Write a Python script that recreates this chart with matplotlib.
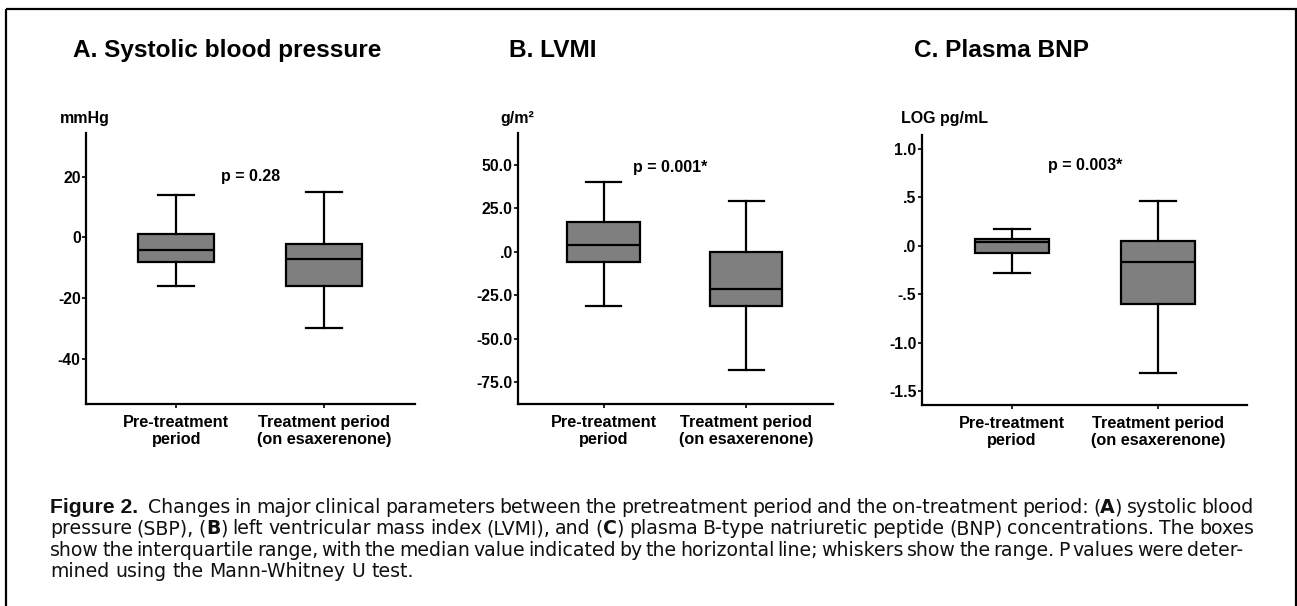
import matplotlib
matplotlib.use("Agg")
import matplotlib.pyplot as plt
from matplotlib import font_manager
from matplotlib.patches import Rectangle

# ---------------- data ----------------
groups = ["Pre-treatment\nperiod", "Treatment period\n(on esaxerenone)"]

titles = ["A. Systolic blood pressure", "B. LVMI", "C. Plasma BNP"]
units = ["mmHg", "g/m\u00b2", "LOG pg/mL"]
p_texts = ["p = 0.28", "p = 0.001*", "p = 0.003*"]

# five-number summaries per group: [whislo, q1, median, q3, whishi]
sbp_pre = [-16, -8, -4, 1, 14]
sbp_trt = [-30, -16, -7, -2, 15]
lvmi_pre = [-31, -6, 4, 17, 40]
lvmi_trt = [-68, -31, -21.5, 0, 29]
bnp_pre = [-0.28, -0.08, 0.035, 0.065, 0.175]
bnp_trt = [-1.31, -0.60, -0.165, 0.048, 0.457]

sbp_ticks = [20, 0, -20, -40]
sbp_ticklabels = ["20", "0", "-20", "-40"]
lvmi_ticks = [50, 25, 0, -25, -50, -75]
lvmi_ticklabels = ["50.0", "25.0", ".0", "-25.0", "-50.0", "-75.0"]
bnp_ticks = [1.0, 0.5, 0.0, -0.5, -1.0, -1.5]
bnp_ticklabels = ["1.0", ".5", ".0", "-.5", "-1.0", "-1.5"]

caption_label = "Figure 2."
caption_lines = [
    [("Changes in major clinical parameters between the pretreatment period and the on-treatment period: (", "r"),
     ("A", "b"), (") systolic blood", "r")],
    [("pressure (SBP), (", "r"), ("B", "b"), (") left ventricular mass index (LVMI), and (", "r"), ("C", "b"),
     (") plasma B-type natriuretic peptide (BNP) concentrations. The boxes", "r")],
    [("show the interquartile range, with the median value indicated by the horizontal line; whiskers show the range. P values were deter-", "r")],
    [("mined using the Mann-Whitney U test.", "r")],
]

# ---------------- layout ----------------
W, H = 1297, 606
fig = plt.figure(figsize=(W / 100, H / 100), dpi=100)
fig.patch.set_facecolor("white")

FONT = "Liberation Sans"

def fr(l, t, r, b):
    return [l / W, 1 - b / H, (r - l) / W, (b - t) / H]

panels = [
    dict(rect=fr(86, 133, 415, 404), ylim=(-55, 34.5), xlim=(0.39, 2.615), data=[sbp_pre, sbp_trt],
         ticks=sbp_ticks, labels=sbp_ticklabels, py=20.0, px=1.5,
         title_x=73, unit_x=60),
    dict(rect=fr(518, 133, 833, 404), ylim=(-87.5, 68.2), xlim=(0.40, 2.61), data=[lvmi_pre, lvmi_trt],
         ticks=lvmi_ticks, labels=lvmi_ticklabels, py=48.5, px=1.47,
         title_x=509, unit_x=500),
    dict(rect=fr(921.7, 135, 1246.7, 405), ylim=(-1.64, 1.14), xlim=(0.38, 2.61), data=[bnp_pre, bnp_trt],
         ticks=bnp_ticks, labels=bnp_ticklabels, py=0.83, px=1.5,
         title_x=914, unit_x=900.7),
]

LW = 1.6
for i, p in enumerate(panels):
    ax = fig.add_axes(p["rect"])
    stats = []
    for d in p["data"]:
        stats.append(dict(whislo=d[0], q1=d[1], med=d[2], q3=d[3], whishi=d[4], fliers=[]))
    ax.bxp(stats, positions=[1, 2], widths=0.51, capwidths=0.245, patch_artist=True, showfliers=False,
           boxprops=dict(facecolor="#7f7f7f", edgecolor="black", linewidth=LW),
           medianprops=dict(color="black", linewidth=LW),
           whiskerprops=dict(color="black", linewidth=LW),
           capprops=dict(color="black", linewidth=LW))
    ax.set_xlim(*p["xlim"])
    ax.set_ylim(*p["ylim"])
    ax.set_yticks(p["ticks"])
    ax.set_yticklabels(p["labels"], fontfamily=FONT, fontweight="bold", fontsize=11.3)
    ax.set_xticks([1, 2])
    ax.set_xticklabels(groups, fontfamily=FONT, fontweight="bold", fontsize=11.7, linespacing=1.15)
    ax.tick_params(axis="y", direction="out", length=3, width=1.2, pad=0.8, color="black")
    ax.tick_params(axis="x", direction="out", length=3, width=1.2, pad=5, color="black")
    for s in ["top", "right"]:
        ax.spines[s].set_visible(False)
    for s in ["left", "bottom"]:
        ax.spines[s].set_linewidth(LW)
    ax.patch.set_alpha(0)
    ax.text(p["px"], p["py"], p_texts[i], ha="center", va="center", fontfamily=FONT,
            fontweight="bold", fontsize=11.5)

# overlay axes in pixel coordinates for titles, units, caption and frame
ov = fig.add_axes([0, 0, 1, 1], zorder=-1)
ov.set_xlim(0, W)
ov.set_ylim(H, 0)
ov.axis("off")

ov.add_patch(Rectangle((6, 9), 1290, 640, fill=False, edgecolor="black", linewidth=1.6, clip_on=False))

for i, p in enumerate(panels):
    ov.text(p["title_x"], 56.7, titles[i], ha="left", va="baseline", fontfamily=FONT,
            fontweight="bold", fontsize=17.6)
    ov.text(p["unit_x"], 118, units[i], ha="left", va="center", fontfamily=FONT,
            fontweight="bold", fontsize=11.5)

# ---- caption (justified) ----
fm_names = {f.name for f in font_manager.fontManager.ttflist}
narrow = "Liberation Sans Narrow" if "Liberation Sans Narrow" in fm_names else FONT
renderer = fig.canvas.get_renderer()
CAP_SIZE = 13.6
CAP_FONT = "DejaVu Sans"

def style(kind):
    if kind == "b":
        return dict(fontfamily=CAP_FONT, fontweight="bold", fontsize=CAP_SIZE)
    return dict(fontfamily=CAP_FONT, fontweight="normal", fontsize=CAP_SIZE)

def width_of(s, kind):
    t = ov.text(0, 0, s, **style(kind))
    w = t.get_window_extent(renderer).width
    t.remove()
    return w

def split_words(line):
    words = [[]]
    for txt, kind in line:
        parts = txt.split(" ")
        for j, part in enumerate(parts):
            if j > 0:
                words.append([])
            if part:
                words[-1].append((part, kind))
    return [w for w in words if w]

baselines = [513, 534.3, 555.6, 576.9]
starts = [148, 50, 50, 50]
targets = [1254, 1254, 1243, None]

ov.text(50, baselines[0], caption_label, ha="left", va="baseline", color="#111111",
        fontfamily=narrow, fontweight="bold", fontsize=15.2)

space_w = width_of("a a", "r") - width_of("aa", "r")
for li, line in enumerate(caption_lines):
    words = split_words(line)
    widths = [sum(width_of(t, k) for t, k in w) for w in words]
    ngaps = len(words) - 1
    x0 = starts[li]
    if targets[li] is not None and ngaps > 0:
        gap = (targets[li] - x0 - sum(widths)) / ngaps
    else:
        gap = space_w
    x = x0
    for wi, w in enumerate(words):
        for t, k in w:
            ov.text(x, baselines[li], t, ha="left", va="baseline", color="#111111", **style(k))
            x += width_of(t, k)
        x += gap

fig.savefig("out.png", dpi=100, facecolor="white")
